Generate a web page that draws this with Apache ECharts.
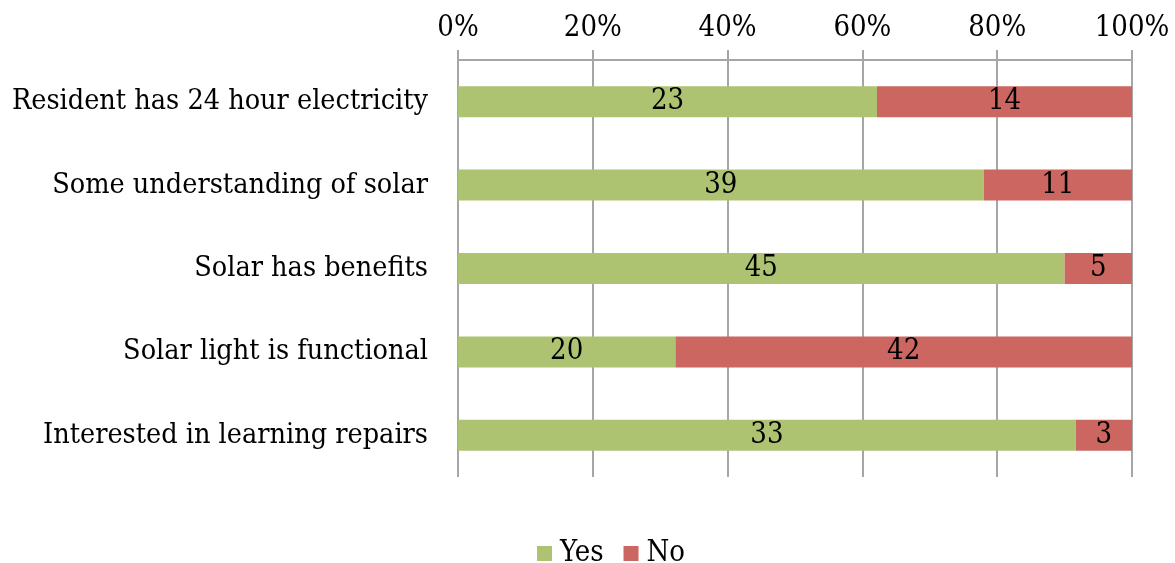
<!DOCTYPE html>
<html><head><meta charset="utf-8">
<script src="https://cdn.jsdelivr.net/npm/echarts@6/dist/echarts.min.js"></script>
<style>html,body{margin:0;padding:0;background:#fff}#c{width:1175px;height:563px}</style>
</head><body><div id="c"></div>
<script>
var categories = ['Resident has 24 hour electricity','Some understanding of solar','Solar has benefits','Solar light is functional','Interested in learning repairs'];
var yesCounts = [23, 39, 45, 20, 33];
var noCounts = [14, 11, 5, 42, 3];
var tickLabels = ['0%','20%','40%','60%','80%','100%'];

var FONT = '"DejaVu Serif Condensed", "DejaVu Serif", serif';
function pct(a, b) { return a.map(function(v, i){ return v / (v + b[i]) * 100; }); }
var yesPct = pct(yesCounts, noCounts);
var noPct = noCounts.map(function(v, i){ return 100 - yesPct[i]; });

var chart = echarts.init(document.getElementById('c'));
chart.setOption({
  animation: false,
  grid: {left: 458, right: 43, top: 60, bottom: 86},
  legend: {
    top: 534, left: 532, itemWidth: 15, itemHeight: 15, itemGap: 20,
    icon: 'rect',
    textStyle: {fontFamily: FONT, fontSize: 29, color: '#000', padding: [0, 0, 0, 3]},
    data: ['Yes','No']
  },
  xAxis: {
    type: 'value', position: 'top', min: 0, max: 100, interval: 20,
    axisLine: {show: true, lineStyle: {color: '#A6A6A6', width: 2}},
    axisTick: {show: true, length: 10, lineStyle: {color: '#A6A6A6', width: 2}},
    splitLine: {show: true, lineStyle: {color: '#A6A6A6', width: 2}},
    axisLabel: {formatter: function(v){ return tickLabels[Math.round(v/20)]; }, fontFamily: FONT, fontSize: 29, color: '#000', margin: 17}
  },
  yAxis: {
    type: 'category', inverse: true, data: categories,
    axisLine: {show: false}, axisTick: {show: false},
    axisLabel: {fontFamily: FONT, fontSize: 28.5, color: '#000', margin: 30}
  },
  series: [
    {name: 'Yes', type: 'bar', stack: 's', barWidth: 31, data: yesPct,
     itemStyle: {color: '#ADC372'},
     label: {show: true, position: 'inside', fontFamily: FONT, fontSize: 29, color: '#000',
       formatter: function(p){ return yesCounts[p.dataIndex]; }}},
    {name: 'No', type: 'bar', stack: 's', barWidth: 31, data: noPct,
     itemStyle: {color: '#CB6661'},
     label: {show: true, position: 'inside', fontFamily: FONT, fontSize: 29, color: '#000',
       formatter: function(p){ return noCounts[p.dataIndex]; }}}
  ]
});
</script></body></html>
